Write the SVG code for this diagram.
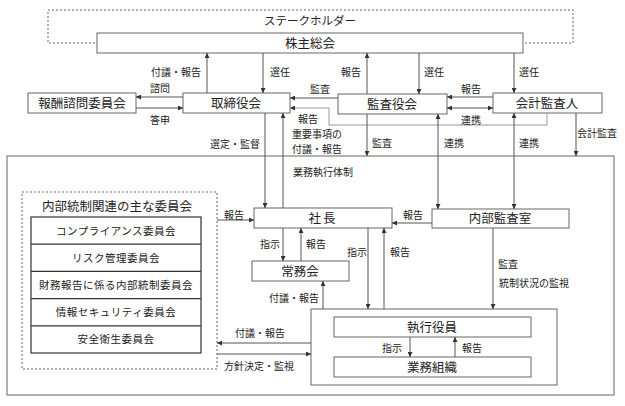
<svg xmlns="http://www.w3.org/2000/svg" width="625" height="406" viewBox="0 0 625 406">
<style>
text{font-family:"Noto Sans CJK JP","Noto Sans",sans-serif;fill:#222}
.b{font-size:12.5px;text-anchor:middle}
.s{font-size:10px}
.m{text-anchor:middle}
.e{text-anchor:end}
.c{font-size:10.5px;text-anchor:middle;letter-spacing:0.5px}
.box{fill:#fff;stroke:#666;stroke-width:1}
.dash{fill:none;stroke:#666;stroke-width:1;stroke-dasharray:2,2}
.ln{fill:none;stroke:#555;stroke-width:1;marker-end:url(#ah)}
.dbl{fill:none;stroke:#555;stroke-width:1;marker-end:url(#ah);marker-start:url(#ah)}
</style>
<defs>
<marker id="ah" viewBox="0 0 6 6" refX="6" refY="3" markerWidth="5" markerHeight="5" markerUnits="userSpaceOnUse" orient="auto-start-reverse">
<path d="M0,0 L6,3 L0,6 z" fill="#333"/>
</marker>
</defs>
<rect width="625" height="406" fill="#fff"/>

<g id="stakeholders">
<rect class="dash" x="48" y="10" width="525" height="33"/>
<text x="310" y="25" class="b" style="font-size:11.5px">ステークホルダー</text>
</g>
<g id="outer">
<rect class="box" x="7" y="156" width="607" height="239" style="fill:none"/>
<text x="293" y="176" class="s">業務執行体制</text>
</g>
<g id="shareholders">
<rect class="box" x="97" y="33" width="426" height="20"/>
<text x="310" y="47.5" class="b">株主総会</text>
</g>
<g id="compensation">
<rect class="box" x="28" y="93" width="108" height="20"/>
<text x="82" y="107.5" class="b">報酬諮問委員会</text>
</g>
<g id="board">
<rect class="box" x="183" y="93" width="107" height="20"/>
<text x="236" y="107.5" class="b">取締役会</text>
</g>
<g id="auditboard">
<rect class="box" x="338" y="94" width="109" height="20"/>
<text x="392" y="108.5" class="b">監査役会</text>
</g>
<g id="accountant">
<rect class="box" x="493" y="93" width="109" height="20"/>
<text x="547" y="107.5" class="b">会計監査人</text>
</g>
<g id="committees">
<rect class="dash" x="22" y="192" width="195" height="177"/>
<text x="117" y="211" class="b" style="font-size:12.5px">内部統制関連の主な委員会</text>
<g fill="#fff" stroke="#333" stroke-width="1.2">
<rect x="31" y="217" width="170" height="136"/>
<path d="M31,244.2H201M31,271.4H201M31,298.6H201M31,325.8H201"/>
</g>
<text x="116" y="234.5" class="c">コンプライアンス委員会</text>
<text x="116" y="261.7" class="c">リスク管理委員会</text>
<text x="116" y="288.9" class="c">財務報告に係る内部統制委員会</text>
<text x="116" y="316.1" class="c">情報セキュリティ委員会</text>
<text x="116" y="343.3" class="c">安全衛生委員会</text>
</g>
<g id="president">
<rect class="box" x="254" y="208" width="138" height="20"/>
<text x="323" y="222.5" class="b" style="letter-spacing:2px">社長</text>
</g>
<g id="internalaudit">
<rect class="box" x="432" y="209" width="137" height="19"/>
<text x="500" y="223" class="b">内部監査室</text>
</g>
<g id="executive">
<rect class="box" x="252" y="261" width="97" height="20"/>
<text x="300" y="275.5" class="b">常務会</text>
</g>
<g id="execgroup">
<rect class="box" x="311" y="309" width="246" height="76"/>
</g>
<g id="officers">
<rect class="box" x="334" y="317" width="197" height="20"/>
<text x="432" y="331.5" class="b">執行役員</text>
</g>
<g id="organization">
<rect class="box" x="334" y="357" width="197" height="20"/>
<text x="432" y="371.5" class="b">業務組織</text>
</g>

<g id="connectors">
<path class="ln" d="M207,93V53"/>
<path class="ln" d="M263,53V93"/>
<path class="ln" d="M183,97H136"/>
<path class="ln" d="M136,108H183"/>
<path class="ln" d="M367,94V53"/>
<path class="ln" d="M419,53V94"/>
<path class="ln" d="M514,53V93"/>
<path class="ln" d="M338,98H290"/>
<path class="ln" d="M493,97H447"/>
<path class="dbl" d="M447,108H493"/>
<path class="ln" d="M547,113V125H329V108H290" style="stroke:#999"/>
<path class="ln" d="M265,113V208"/>
<path class="ln" d="M283,208V113"/>
<path class="ln" d="M367,114V156"/>
<path class="dbl" d="M438,114V209"/>
<path class="dbl" d="M514,113V209"/>
<path class="ln" d="M576,113V156"/>
<path class="ln" d="M217,220H254"/>
<path class="ln" d="M432,223H392"/>
<path class="ln" d="M283,228V261"/>
<path class="ln" d="M301,261V228"/>
<path class="ln" d="M368,228V309"/>
<path class="ln" d="M384,309V228"/>
<path class="ln" d="M323,309V281"/>
<path class="ln" d="M493,228V309"/>
<path class="ln" d="M311,343H217"/>
<path class="ln" d="M217,354H311"/>
<path class="ln" d="M410,337V357"/>
<path class="ln" d="M455,357V337"/>
</g>

<g id="labels" class="s">
<text x="201" y="75.5" class="s e">付議・報告</text>
<text x="270" y="75.5" class="s">選任</text>
<text x="150" y="91.5" class="s">諮問</text>
<text x="150" y="123.5" class="s">答申</text>
<text x="260" y="147.5" class="s e">選定・監督</text>
<text x="292" y="138" class="s">重要事項の</text>
<text x="292" y="153" class="s">付議・報告</text>
<text x="298" y="122.5" class="s">報告</text>
<text x="310" y="92.5" class="s">監査</text>
<text x="341" y="75.5" class="s">報告</text>
<text x="424" y="75.5" class="s">選任</text>
<text x="519" y="75.5" class="s">選任</text>
<text x="461" y="92.5" class="s">報告</text>
<text x="461" y="123.5" class="s">連携</text>
<text x="372" y="146.5" class="s">監査</text>
<text x="444" y="146.5" class="s">連携</text>
<text x="519" y="146.5" class="s">連携</text>
<text x="577" y="136.5" class="s">会計監査</text>
<text x="224" y="218.5" class="s">報告</text>
<text x="403" y="218.5" class="s">報告</text>
<text x="260" y="247.5" class="s">指示</text>
<text x="306" y="247.5" class="s">報告</text>
<text x="347" y="255.5" class="s">指示</text>
<text x="390" y="255.5" class="s">報告</text>
<text x="319" y="301.5" class="s e">付議・報告</text>
<text x="235" y="336.5" class="s">付議・報告</text>
<text x="224" y="369.5" class="s">方針決定・監視</text>
<text x="498" y="267.5" class="s">監査</text>
<text x="499" y="286.5" class="s">統制状況の監視</text>
<text x="382" y="351.5" class="s">指示</text>
<text x="462" y="351.5" class="s">報告</text>
</g>
</svg>
